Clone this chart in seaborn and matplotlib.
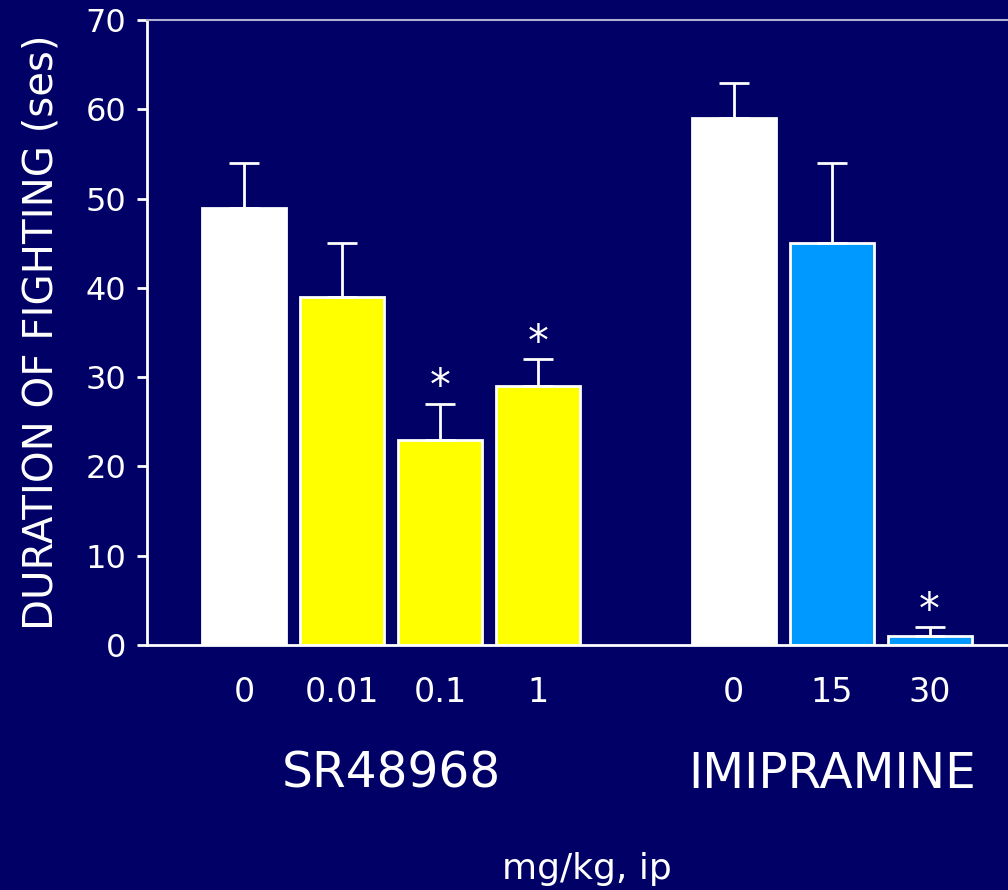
import numpy as np
import pandas as pd
import matplotlib
matplotlib.use("Agg")
import matplotlib.pyplot as plt
import seaborn as sns

# data
positions = [0, 1, 2, 3, 5, 6, 7]
dose_labels = ["0", "0.01", "0.1", "1", "0", "15", "30"]
means = [49, 39, 23, 29, 59, 45, 1]
errors = [5, 6, 4, 3, 4, 9, 1]
significant = [False, False, True, True, False, False, True]
bar_colors = ["#ffffff", "#ffff00", "#ffff00", "#ffff00", "#ffffff", "#0099ff", "#0099ff"]
groups = ["SR48968", "IMIPRAMINE"]
group_centers = [1.5, 6]

bg = "#000066"

df = pd.DataFrame({"pos": positions, "mean": means, "key": [str(p) for p in positions]})

sns.set_style("white")
plt.rcParams["font.family"] = ["DejaVu Sans"]

fig = plt.figure(figsize=(10.08, 8.9), dpi=100, facecolor=bg)
ax = fig.add_axes([147 / 1008, 1 - 645 / 890, 1 - 147 / 1008, (645 - 20) / 890])
ax.set_facecolor(bg)

sns.barplot(data=df, x="pos", y="mean", hue="key",
            palette=dict(zip(df["key"], bar_colors)), native_scale=True,
            dodge=False, width=0.86, edgecolor="white", linewidth=2,
            saturation=1, legend=False, ax=ax)

ax.errorbar(positions, means, yerr=[np.zeros(len(errors)), errors], fmt="none",
            ecolor="white", elinewidth=2, capsize=11, capthick=2, zorder=1)

for p, m, e, s in zip(positions, means, errors, significant):
    if s:
        ax.text(p, m + e - 0.5, "*", color="white", fontsize=30,
                ha="center", va="bottom")

ax.set_xlim(-0.99, 7.80)
ax.set_ylim(0, 70)
ax.set_yticks(range(0, 71, 10))
ax.set_xticks(positions)
ax.set_xticklabels(dose_labels)
ax.tick_params(axis="y", colors="white", labelsize=23, length=7, width=2,
               direction="out", left=True, pad=8)
ax.tick_params(axis="x", colors="white", labelsize=24, length=0, pad=22)

for side in ["left", "bottom"]:
    ax.spines[side].set_color("white")
    ax.spines[side].set_linewidth(2)
ax.spines["top"].set_color("#b0b0d0")
ax.spines["top"].set_linewidth(1.5)
ax.spines["right"].set_visible(False)

ax.set_xlabel("")
ax.set_ylabel("DURATION OF FIGHTING (ses)", color="white", fontsize=29, labelpad=17)

for g, c in zip(groups, group_centers):
    ax.text(c, -14.4, g, color="white", fontsize=35, ha="center", va="center")
ax.text(3.5, -25.1, "mg/kg, ip", color="white", fontsize=26, ha="center", va="center")

fig.savefig("out.png", dpi=100, facecolor=bg)
